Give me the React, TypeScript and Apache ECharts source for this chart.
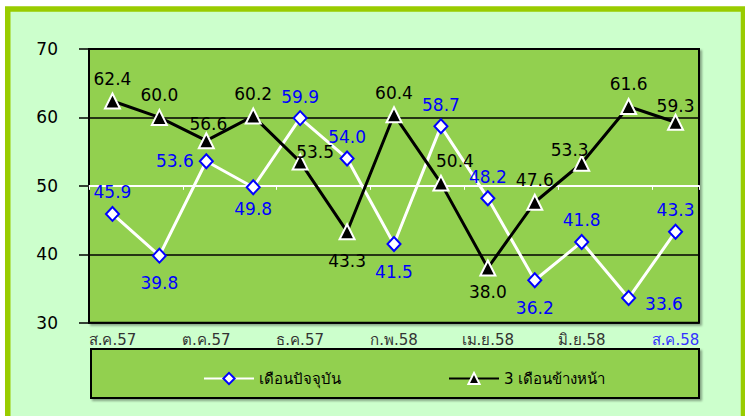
import React, { useEffect, useRef } from "react";
import * as echarts from "echarts";

const categories = [
  "ส.ค.57", "ก.ย.57", "ต.ค.57", "พ.ย.57", "ธ.ค.57", "ม.ค.58", "ก.พ.58",
  "มี.ค.58", "เม.ย.58", "พ.ค.58", "มิ.ย.58", "ก.ค.58", "ส.ค.58",
];
const currentMonth = [45.9, 39.8, 53.6, 49.8, 59.9, 54.0, 41.5, 58.7, 48.2, 36.2, 41.8, 33.6, 43.3];
const threeMonthsAhead = [62.4, 60.0, 56.6, 60.2, 53.5, 43.3, 60.4, 50.4, 38.0, 47.6, 53.3, 61.6, 59.3];
const seriesNames = ["เดือนปัจจุบัน", "3 เดือนข้างหน้า"];
const yTicks = { min: 30, max: 70, interval: 10 };

// label placement per point (layout only)
const whiteLabelPos: [string, number[]][] = [
  ["top", [0, 0]], ["bottom", [0, 6]], ["left", [0, 0]], ["bottom", [0, 0]],
  ["top", [0, 0]], ["top", [0, 0]], ["bottom", [0, 6]], ["top", [0, 0]],
  ["top", [0, 0]], ["bottom", [0, 6]], ["top", [0, 0]], ["right", [4, 6]], ["top", [0, 0]],
];
const blackLabelPos: [string, number[]][] = [
  ["top", [0, 0]], ["top", [0, 0]], ["top", [2, 5]], ["top", [0, 0]],
  ["top", [15, 12]], ["bottom", [0, 7]], ["top", [0, 0]], ["top", [14, 0]],
  ["bottom", [0, 2]], ["top", [0, 0]], ["top", [-12, 9]], ["top", [0, 0]], ["top", [0, 6]],
];

const FONT = "DejaVu Sans";

export default function App() {
  const ref = useRef<HTMLDivElement>(null);
  useEffect(() => {
    if (!ref.current) return;
    const chart = echarts.init(ref.current, null, { renderer: "svg" });
    const gridTop = 49;
    const gridBottom = 416 - 322.7;
    const plotH = 416 - gridTop - gridBottom;
    const y50Offset = -plotH * (50 - yTicks.min) / (yTicks.max - yTicks.min);
    const catData = categories.map((c, i) =>
      i === categories.length - 1 ? { value: c, textStyle: { color: "#3333ff" } } : c
    );
    chart.setOption({
      animation: false,
      backgroundColor: "#ffffff",
      graphic: [
        {
          type: "rect",
          z: -10,
          shape: { x: 7.75, y: 9, width: 735.75, height: 420 },
          style: { fill: "#ccffcc", stroke: "#99cc00", lineWidth: 5.5 },
        },
        {
          type: "rect",
          z: 0,
          shape: { x: 91, y: 349, width: 608, height: 49 },
          style: {
            fill: "#92d050", stroke: "#000", lineWidth: 2,
            shadowColor: "rgba(0,0,0,0.35)", shadowOffsetX: 2, shadowOffsetY: 2, shadowBlur: 2,
          },
        },
      ],
      grid: {
        left: 89, right: 745 - 699, top: gridTop, bottom: gridBottom,
        show: true, backgroundColor: "#92d050", borderColor: "#000", borderWidth: 2,
        shadowColor: "rgba(0,0,0,0.35)", shadowOffsetX: 2, shadowOffsetY: 2, shadowBlur: 2,
      },
      legend: [
        {
          data: [seriesNames[0]], left: 198, top: 366, itemWidth: 50, itemHeight: 14,
          textStyle: { fontFamily: FONT, fontSize: 15, color: "#000" }, z: 5,
        },
        {
          data: [seriesNames[1]], left: 443, top: 366, itemWidth: 50, itemHeight: 14,
          textStyle: { fontFamily: FONT, fontSize: 15, color: "#000" }, z: 5,
        },
      ],
      xAxis: [
        {
          type: "category", data: catData, boundaryGap: true,
          axisLine: { show: false }, axisTick: { show: false },
          axisLabel: { interval: 1, margin: 10, fontFamily: FONT, fontSize: 15, color: "#333333" },
        },
        {
          type: "category", data: categories, boundaryGap: true, position: "bottom",
          offset: y50Offset,
          axisLine: { show: true, lineStyle: { color: "#ffffff", width: 2 } },
          axisTick: { show: true, length: 4, lineStyle: { color: "#ffffff", width: 1 } },
          axisLabel: { show: false },
        },
      ],
      yAxis: {
        type: "value", min: yTicks.min, max: yTicks.max, interval: yTicks.interval,
        axisLine: { show: true, lineStyle: { color: "#000", width: 2 } },
        axisTick: { show: true, length: 10, lineStyle: { color: "#000", width: 1.5 } },
        axisLabel: { margin: 31, fontFamily: FONT, fontSize: 17, color: "#000" },
        splitLine: { show: true, lineStyle: { color: ["#000", "#000", "#ffffff", "#000", "#000"], width: 1.5 } },
      },
      series: [
        {
          name: seriesNames[0], type: "line", z: 3,
          data: currentMonth.map((v, i) => ({
            value: v,
            label: { position: whiteLabelPos[i][0], offset: whiteLabelPos[i][1] },
          })),
          symbol: "diamond", symbolSize: [13, 14],
          lineStyle: { color: "#ffffff", width: 3 },
          itemStyle: { color: "#ffffff", borderColor: "#0000ff", borderWidth: 2 },
          label: {
            show: true, fontFamily: FONT, fontSize: 17, color: "#0000ff",
            formatter: (p: any) => Number(p.value).toFixed(1),
          },
        },
        {
          name: seriesNames[1], type: "line", z: 4,
          data: threeMonthsAhead.map((v, i) => ({
            value: v,
            label: { position: blackLabelPos[i][0], offset: blackLabelPos[i][1] },
          })),
          symbol: "triangle", symbolSize: 15,
          lineStyle: { color: "#000000", width: 3 },
          itemStyle: { color: "#000000", borderColor: "#ffffff", borderWidth: 2 },
          label: {
            show: true, fontFamily: FONT, fontSize: 17, color: "#000000",
            formatter: (p: any) => Number(p.value).toFixed(1),
          },
        },
      ],
    });
    return () => chart.dispose();
  }, []);
  return (
    <div
      ref={ref}
      style={{ position: "fixed", left: 0, top: 0, width: 745, height: 416 }}
    />
  );
}
